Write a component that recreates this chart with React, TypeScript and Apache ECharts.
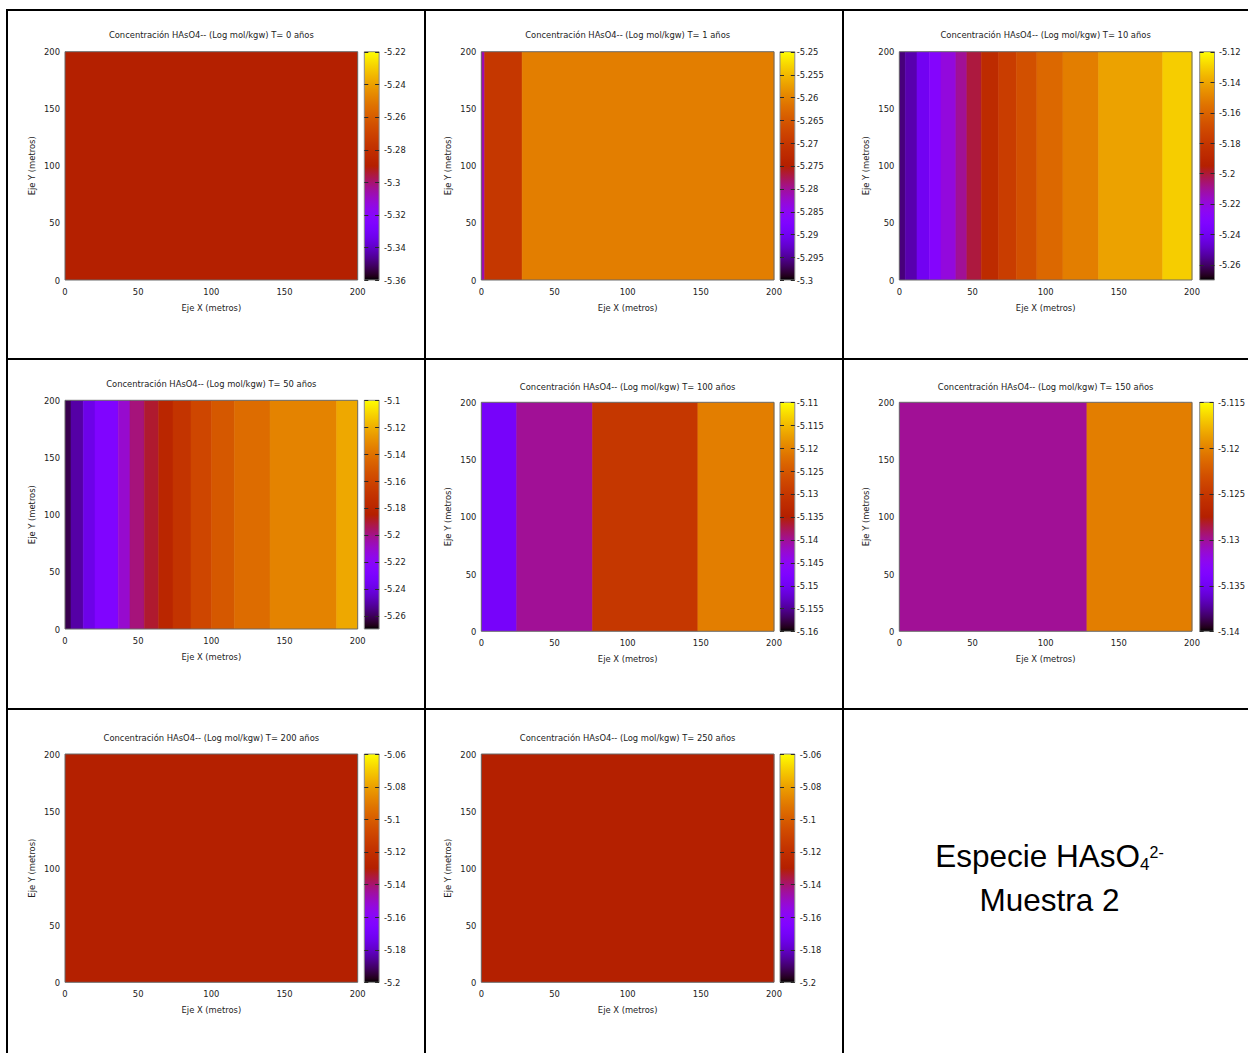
import React, { useEffect, useRef } from "react";
import * as echarts from "echarts";

// ---------------- data ----------------
const YEARS = [0, 1, 10, 50, 100, 150, 200, 250];

const X_MIN = 0;
const X_MAX = 200;
const Y_MIN = 0;
const Y_MAX = 200;
const AXIS_INTERVAL = 50;

// band edges along X (metros) and log concentration of each band
const T0_EDGES = [0, 200];
const T0_VALUES = [-5.29];
const T1_EDGES = [0, 2.3, 27.9, 200];
const T1_VALUES = [-5.281, -5.27, -5.2605];
const T10_EDGES = [0, 4.1, 12.1, 20.5, 28.5, 38.7, 46.2, 56, 67.9, 80, 94, 111.8, 136.2, 180, 200];
const T10_VALUES = [-5.258, -5.252, -5.24, -5.2295, -5.22, -5.21, -5.201, -5.1875, -5.177, -5.168, -5.159, -5.1515, -5.141, -5.1305];
const T50_EDGES = [0, 4.1, 12.5, 20.5, 36.4, 44.4, 54.2, 64, 73.8, 86.1, 100.2, 115.7, 140.1, 185.6, 200];
const T50_VALUES = [-5.2615, -5.251, -5.239, -5.2275, -5.2105, -5.1986, -5.19, -5.18, -5.17, -5.1595, -5.151, -5.1425, -5.134, -5.122];
const T100_EDGES = [0, 24.2, 76, 148, 200];
const T100_VALUES = [-5.149, -5.14, -5.13, -5.1205];
const T150_EDGES = [0, 128.2, 200];
const T150_VALUES = [-5.13, -5.12025];
const T200_EDGES = [0, 200];
const T200_VALUES = [-5.13];
const T250_EDGES = [0, 200];
const T250_VALUES = [-5.13];

// colour-bar ranges [min, max]
const CB_RANGE_T0 = [-5.36, -5.22];
const CB_RANGE_T1 = [-5.3, -5.25];
const CB_RANGE_T10 = [-5.27, -5.12];
const CB_RANGE_T50 = [-5.27, -5.1];
const CB_RANGE_T100 = [-5.16, -5.11];
const CB_RANGE_T150 = [-5.14, -5.115];
const CB_RANGE_T200 = [-5.2, -5.06];
const CB_RANGE_T250 = [-5.2, -5.06];

// colour-bar tick labels
const CB_TICKS_T0 = [-5.36, -5.34, -5.32, -5.3, -5.28, -5.26, -5.24, -5.22];
const CB_TICKS_T1 = [-5.3, -5.295, -5.29, -5.285, -5.28, -5.275, -5.27, -5.265, -5.26, -5.255, -5.25];
const CB_TICKS_T10 = [-5.26, -5.24, -5.22, -5.2, -5.18, -5.16, -5.14, -5.12];
const CB_TICKS_T50 = [-5.26, -5.24, -5.22, -5.2, -5.18, -5.16, -5.14, -5.12, -5.1];
const CB_TICKS_T100 = [-5.16, -5.155, -5.15, -5.145, -5.14, -5.135, -5.13, -5.125, -5.12, -5.115, -5.11];
const CB_TICKS_T150 = [-5.14, -5.135, -5.13, -5.125, -5.12, -5.115];
const CB_TICKS_T200 = [-5.2, -5.18, -5.16, -5.14, -5.12, -5.1, -5.08, -5.06];
const CB_TICKS_T250 = [-5.2, -5.18, -5.16, -5.14, -5.12, -5.1, -5.08, -5.06];

const ALL_EDGES = [T0_EDGES, T1_EDGES, T10_EDGES, T50_EDGES, T100_EDGES, T150_EDGES, T200_EDGES, T250_EDGES];
const ALL_VALUES = [T0_VALUES, T1_VALUES, T10_VALUES, T50_VALUES, T100_VALUES, T150_VALUES, T200_VALUES, T250_VALUES];
const ALL_RANGES = [CB_RANGE_T0, CB_RANGE_T1, CB_RANGE_T10, CB_RANGE_T50, CB_RANGE_T100, CB_RANGE_T150, CB_RANGE_T200, CB_RANGE_T250];
const ALL_TICKS = [CB_TICKS_T0, CB_TICKS_T1, CB_TICKS_T10, CB_TICKS_T50, CB_TICKS_T100, CB_TICKS_T150, CB_TICKS_T200, CB_TICKS_T250];

const NOTE_LINE1 = ["Especie HAsO", "4", "2-"];
const NOTE_LINE2 = "Muestra 2";

// ---------------- layout / style ----------------
const COL_PLOT_LEFT = [65, 481.3, 899.3];
const PLOT_WIDTH = 292.7;
const COL_BAR_LEFT = [364.3, 780, 1199.7];
const BAR_WIDTH = 14.8;
const PANEL_TOP = [51.7, 51.7, 51.7, 400.3, 402.3, 402.3, 754, 754];
const PANEL_BOTTOM = [280, 280, 280, 629, 631.3, 631.3, 982.3, 982.3];
const TITLE_Y = [34.5, 34.5, 34.5, 383.7, 386.3, 386.3, 737.3, 737.3];
const BAR_LABEL_MARGIN = [5, 2, 4.5, 5, 2, 4.5, 5, 5];
const CB_TICK_LEN = 4;

const FONT = "'DejaVu Sans Condensed', 'DejaVu Sans', sans-serif";
const NOTE_FONT = "'Liberation Sans', Arial, sans-serif";
const TEXT_COLOR = "#222";
const FS = 9.3;

function gnuplotColor(t: number) {
  const r = Math.sqrt(t);
  const g = t * t * t;
  const b = Math.max(0, Math.sin(2 * Math.PI * t));
  return `rgb(${Math.round(255 * r)},${Math.round(255 * g)},${Math.round(255 * b)})`;
}
const PALETTE_STEPS = 64;
const PALETTE = Array.from({ length: PALETTE_STEPS + 1 }, (_, i) => gnuplotColor(i / PALETTE_STEPS));

function fmt(v: number) {
  return String(parseFloat(Number(v).toFixed(4)));
}

function buildOption() {
  const grid: any[] = [];
  const xAxis: any[] = [];
  const yAxis: any[] = [];
  const series: any[] = [];
  const visualMap: any[] = [];
  const graphic: any[] = [];

  YEARS.forEach((year, i) => {
    const col = i % 3;
    const left = COL_PLOT_LEFT[col];
    const top = PANEL_TOP[i];
    const height = PANEL_BOTTOM[i] - top;
    const [vmin, vmax] = ALL_RANGES[i];
    const ticks = ALL_TICKS[i];
    const edges = ALL_EDGES[i];
    const vals = ALL_VALUES[i];
    const bands = vals.map((v, k) => [edges[k], edges[k + 1], v]);

    grid.push({
      left, top, width: PLOT_WIDTH, height,
      show: true, borderColor: "#6a6a6a", borderWidth: 1, backgroundColor: "transparent", z: 3,
    });
    grid.push({
      left: COL_BAR_LEFT[col], top, width: BAR_WIDTH, height,
      show: true, borderColor: "#8a8a8a", borderWidth: 1, backgroundColor: "transparent", z: 3,
    });

    const label = { color: TEXT_COLOR, fontSize: FS, fontFamily: FONT };

    xAxis.push({
      gridIndex: 2 * i, type: "value", min: X_MIN, max: X_MAX, interval: AXIS_INTERVAL,
      name: "Eje X (metros)", nameLocation: "middle", nameGap: 23,
      nameTextStyle: { ...label },
      axisLine: { show: false }, axisTick: { show: false }, splitLine: { show: false },
      axisLabel: { ...label, margin: 7 },
    });
    xAxis.push({ gridIndex: 2 * i + 1, type: "value", min: 0, max: 1, show: false });

    yAxis.push({
      gridIndex: 2 * i, type: "value", min: Y_MIN, max: Y_MAX, interval: AXIS_INTERVAL,
      name: "Eje Y (metros)", nameLocation: "middle", nameGap: 29, nameRotate: 90,
      nameTextStyle: { ...label },
      axisLine: { show: false }, axisTick: { show: false }, splitLine: { show: false },
      axisLabel: { ...label, margin: 5 },
    });
    yAxis.push({
      gridIndex: 2 * i + 1, type: "value", position: "right", min: vmin, max: vmax,
      axisLine: { show: false }, splitLine: { show: false },
      axisTick: { show: false },
      axisLabel: { ...label, margin: BAR_LABEL_MARGIN[i], customValues: ticks, formatter: (v: number) => fmt(v) },
    });

    const mainSeriesIndex = series.length;
    series.push({
      type: "custom",
      xAxisIndex: 2 * i,
      yAxisIndex: 2 * i,
      clip: true,
      silent: true,
      dimensions: ["x0", "x1", "value"],
      encode: { x: [0, 1] },
      data: bands,
      renderItem: (params: any, api: any) => {
        const p0 = api.coord([api.value(0), Y_MAX]);
        const p1 = api.coord([api.value(1), Y_MIN]);
        const c = api.visual("color");
        return {
          type: "rect",
          shape: { x: p0[0], y: p0[1], width: p1[0] - p0[0], height: p1[1] - p0[1] },
          style: { fill: c, stroke: c, lineWidth: 0.6 },
        };
      },
    });
    visualMap.push({
      type: "continuous", show: false, seriesIndex: mainSeriesIndex, dimension: 2,
      min: vmin, max: vmax, inRange: { color: PALETTE },
    });

    // colour bar gradient
    series.push({
      type: "custom",
      xAxisIndex: 2 * i + 1,
      yAxisIndex: 2 * i + 1,
      silent: true,
      z: 1,
      data: [[0, vmin, 1, vmax]],
      encode: { x: [0, 2], y: [1, 3] },
      renderItem: (params: any, api: any) => {
        const a = api.coord([api.value(0), api.value(3)]);
        const b = api.coord([api.value(2), api.value(1)]);
        const stops = PALETTE.map((c, k) => ({ offset: k / PALETTE_STEPS, color: c }));
        return {
          type: "rect",
          shape: { x: a[0], y: a[1], width: b[0] - a[0], height: b[1] - a[1] },
          style: { fill: new echarts.graphic.LinearGradient(0, 1, 0, 0, stops) },
        };
      },
    });

    // colour bar inner tick marks (both sides)
    series.push({
      type: "custom",
      xAxisIndex: 2 * i + 1,
      yAxisIndex: 2 * i + 1,
      silent: true,
      z: 4,
      data: ticks.map((t) => [t]),
      encode: { y: 0 },
      renderItem: (params: any, api: any) => {
        const l = api.coord([0, api.value(0)]);
        const r = api.coord([1, api.value(0)]);
        const y = Math.round(l[1]) + 0.5;
        const st = { stroke: "#2a2a2a", lineWidth: 1 };
        return {
          type: "group",
          children: [
            { type: "line", shape: { x1: l[0], y1: y, x2: l[0] + CB_TICK_LEN, y2: y }, style: st },
            { type: "line", shape: { x1: r[0] - CB_TICK_LEN, y1: y, x2: r[0], y2: y }, style: st },
          ],
        };
      },
    });

    graphic.push({
      type: "text",
      x: left + PLOT_WIDTH / 2,
      y: TITLE_Y[i],
      style: {
        text: `Concentración HAsO4-- (Log mol/kgw) T= ${year} años`,
        fontSize: FS, fontFamily: FONT, fill: TEXT_COLOR,
        align: "center", verticalAlign: "middle",
      },
    });
  });

  const lineStyle = { stroke: "#000", lineWidth: 2 };
  const vLines = [7, 425, 843];
  const hLines = [10, 359, 709];
  vLines.forEach((x) =>
    graphic.push({ type: "line", shape: { x1: x, y1: 9, x2: x, y2: 1053 }, style: lineStyle, z: 10 })
  );
  hLines.forEach((y) =>
    graphic.push({ type: "line", shape: { x1: 6, y1: y, x2: 1248, y2: y }, style: lineStyle, z: 10 })
  );

  graphic.push({
    type: "text",
    x: 1049.5,
    y: 855.5,
    style: {
      text: `{m|${NOTE_LINE1[0]}}{sub|${NOTE_LINE1[1]}}{sup|${NOTE_LINE1[2]}}`,
      align: "center",
      verticalAlign: "middle",
      rich: {
        m: { fontSize: 31.5, fontFamily: NOTE_FONT, fill: "#000", lineHeight: 36 },
        sub: { fontSize: 17, fontFamily: NOTE_FONT, fill: "#000", verticalAlign: "bottom", lineHeight: 17, padding: [0, 0, 1, 0] },
        sup: { fontSize: 16, fontFamily: NOTE_FONT, fill: "#000", verticalAlign: "top", lineHeight: 16, padding: [7, 0, 0, 0] },
      },
    },
  });
  graphic.push({
    type: "text",
    x: 1049.5,
    y: 899.7,
    style: {
      text: NOTE_LINE2,
      fontSize: 31.5, fontFamily: NOTE_FONT, fill: "#000",
      align: "center", verticalAlign: "middle",
    },
  });

  return {
    animation: false,
    backgroundColor: "#fff",
    textStyle: { fontFamily: FONT },
    grid, xAxis, yAxis, series, visualMap, graphic,
  };
}

export default function App() {
  const ref = useRef<HTMLDivElement>(null);
  useEffect(() => {
    if (!ref.current) return;
    const chart = echarts.init(ref.current, null, { renderer: "svg" });
    chart.setOption(buildOption() as any);
    return () => chart.dispose();
  }, []);
  return (
    <div
      ref={ref}
      style={{ position: "absolute", left: 0, top: 0, width: 1248, height: 1053, background: "#fff" }}
    />
  );
}
